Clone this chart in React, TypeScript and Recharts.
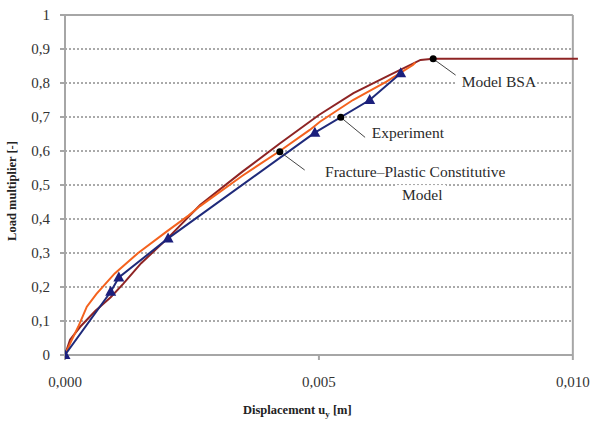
import { ComposedChart, Line, XAxis, YAxis, ReferenceLine, ReferenceDot, Label } from "recharts"

// measured curves, [displacement m, load multiplier]
const experiment: [number, number][] = [
  [0, 0], [0.0009, 0.186], [0.00106, 0.228], [0.00203, 0.343],
  [0.00492, 0.654], [0.006, 0.75], [0.00661, 0.829],
]
const fracturePlastic: [number, number][] = [
  [0, 0], [0.00012, 0.04], [0.00026, 0.083], [0.00043, 0.142], [0.00062, 0.18],
  [0.00098, 0.24], [0.00144, 0.3], [0.002, 0.363], [0.00243, 0.41], [0.00266, 0.438],
  [0.0035, 0.528], [0.00423, 0.6], [0.00482, 0.662], [0.00502, 0.686],
  [0.00567, 0.75], [0.00633, 0.804], [0.00685, 0.853], [0.0069, 0.86],
]
const modelBsa: [number, number][] = [
  [0, 0], [0.0001, 0.045], [0.0003, 0.083], [0.0006, 0.13], [0.0009, 0.17],
  [0.00115, 0.21], [0.0015, 0.27], [0.002, 0.34], [0.00266, 0.441], [0.0035, 0.54],
  [0.00423, 0.622], [0.005, 0.706], [0.00568, 0.77], [0.0064, 0.824],
  [0.007, 0.868], [0.00725, 0.871], [0.0101, 0.871],
]

const xTicks = [0, 0.005, 0.01]
const yTicks = [0, 0.1, 0.2, 0.3, 0.4, 0.5, 0.6, 0.7, 0.8, 0.9, 1]
const gridLevels = [0.1, 0.2, 0.3, 0.4, 0.5, 0.6, 0.7, 0.8, 0.9]

// annotation: point on curve, leader end, text anchor, text lines
const notes = [
  { dot: [0.00725, 0.871], end: [0.00774, 0.818], at: [0.00781, 0.803], lines: ["Model BSA"] },
  { dot: [0.00543, 0.699], end: [0.00591, 0.64], at: [0.00604, 0.653], lines: ["Experiment"] },
  { dot: [0.00423, 0.598], end: [0.00472, 0.544], at: [0.00512, 0.538], lines: ["Fracture\u2013Plastic Constitutive", "Model"] },
]

const toPts = (a: [number, number][]) => a.map(([x, y]) => ({ x, y }))
const FONT = "'Liberation Serif', 'Times New Roman', serif"
const AXIS = "#a6a6a6"

const Tri = (p: any) => {
  const { cx, cy, index } = p
  if (cx == null || cy == null) return null
  return <polygon key={index} points={`${cx},${cy - 6} ${cx - 5.5},${cy + 4} ${cx + 5.5},${cy + 4}`} fill="#1b1f7c" />
}

const NoteText = ({ viewBox, lines }: any) => {
  const x = viewBox.x + viewBox.width / 2
  const y = viewBox.y + viewBox.height / 2
  return (
    <g>
      {lines.map((t: string, i: number) => {
        const w = t.length * 7.6
        const dx = i === 0 ? 0 : 77
        return (
          <g key={i}>
            <rect x={x + dx - 6} y={y + i * 23 - 10} width={w + 12} height={20} fill="#fff" />
            <text x={x + dx} y={y + i * 23 + 5} fontFamily={FONT} fontSize={15.5} fill="#2a2a2a">{t}</text>
          </g>
        )
      })}
    </g>
  )
}

export default function App() {
  return (
    <div style={{ position: "absolute", left: 0, top: 0, width: 592, height: 428, background: "#fff" }}>
      <ComposedChart width={592} height={428} margin={{ top: 15, right: 9, bottom: 0, left: 0 }}>
        <XAxis
          type="number" dataKey="x" domain={[0, 0.0102]} ticks={xTicks} allowDataOverflow
          axisLine={false} tickLine={{ stroke: AXIS, strokeWidth: 2 }} tickSize={5} tickMargin={16} height={73}
          tick={{ fontFamily: FONT, fontSize: 15, fill: "#333" }}
          tickFormatter={(v: number) => v.toFixed(3).replace(".", ",")}
        >
          <Label content={({ viewBox }: any) => (
            <text x={viewBox.x + 178} y={viewBox.y + 59} fontFamily={FONT} fontSize={12.5} fontWeight="bold" fill="#222">
              Displacement u<tspan dy={3} fontSize={9}>y</tspan><tspan dy={-3}> [m]</tspan>
            </text>
          )} />
        </XAxis>
        <YAxis
          type="number" dataKey="y" domain={[0, 1]} ticks={yTicks} width={65}
          axisLine={{ stroke: AXIS, strokeWidth: 2 }} tickLine={{ stroke: AXIS, strokeWidth: 2 }} tickSize={5} tickMargin={10}
          tick={{ fontFamily: FONT, fontSize: 15, fill: "#333" }}
          tickFormatter={(v: number) => (v === 0 || v === 1 ? String(v) : v.toFixed(1).replace(".", ","))}
        >
          <Label content={({ viewBox }: any) => {
            const cx = viewBox.x + 16
            const cy = viewBox.y + viewBox.height / 2 + 6
            return (
              <text x={cx} y={cy} transform={`rotate(-90 ${cx} ${cy})`} textAnchor="middle" fontFamily={FONT} fontSize={12.5} fontWeight="bold" fill="#222">
                Load multiplier [-]
              </text>
            )
          }} />
        </YAxis>

        {gridLevels.map((g) => (
          <ReferenceLine key={g} segment={[{ x: 0, y: g }, { x: 0.01, y: g }]} stroke="#555" strokeDasharray="2 2" />
        ))}
        <ReferenceLine segment={[{ x: 0, y: 1 }, { x: 0.01, y: 1 }]} stroke={AXIS} strokeWidth={2} />
        <ReferenceLine segment={[{ x: 0, y: 0 }, { x: 0.01, y: 0 }]} stroke={AXIS} strokeWidth={2} />
        <ReferenceLine segment={[{ x: 0.01, y: 0 }, { x: 0.01, y: 1 }]} stroke={AXIS} strokeWidth={2} />

        <Line data={toPts(modelBsa)} dataKey="y" stroke="#8e2424" strokeWidth={2} dot={false} isAnimationActive={false} />
        <Line data={toPts(fracturePlastic)} dataKey="y" stroke="#f4621e" strokeWidth={2} dot={false} isAnimationActive={false} />
        <Line data={toPts(experiment)} dataKey="y" stroke="#1f2a7a" strokeWidth={2} dot={<Tri />} isAnimationActive={false} />

        {notes.map((n, i) => (
          <ReferenceLine key={"l" + i} segment={[{ x: n.dot[0], y: n.dot[1] }, { x: n.end[0], y: n.end[1] }]} stroke="#444" strokeWidth={1} />
        ))}
        {notes.map((n, i) => (
          <ReferenceDot key={"d" + i} x={n.dot[0]} y={n.dot[1]} r={3.5} fill="#000" stroke="none" />
        ))}
        {notes.map((n, i) => (
          <ReferenceDot key={"t" + i} x={n.at[0]} y={n.at[1]} r={0} fill="none" stroke="none">
            <Label content={(p: any) => <NoteText viewBox={p.viewBox} lines={n.lines} />} />
          </ReferenceDot>
        ))}
      </ComposedChart>
    </div>
  )
}
